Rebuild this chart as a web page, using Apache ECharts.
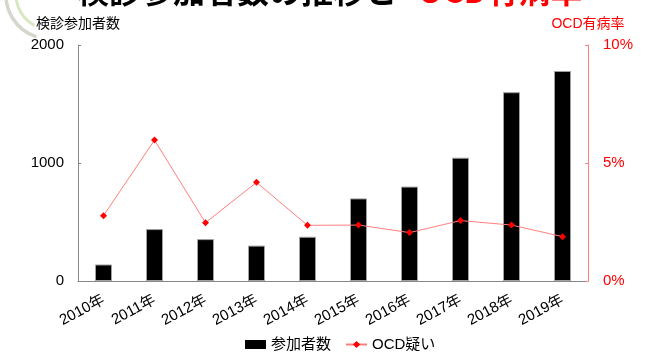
<!DOCTYPE html>
<html><head><meta charset="utf-8">
<script src="https://cdn.jsdelivr.net/npm/echarts@6/dist/echarts.min.js"></script>
<style>html,body{margin:0;padding:0;background:#fff}#c{width:651px;height:363px}</style>
</head><body><div id="c"></div>
<script>
const categories = ['2010年','2011年','2012年','2013年','2014年','2015年','2016年','2017年','2018年','2019年'];
const participants = [140, 440, 355, 300, 375, 700, 800, 1045, 1600, 1780];
const ocdRate = [2.77, 5.97, 2.47, 4.18, 2.36, 2.37, 2.05, 2.56, 2.37, 1.88];
const font = '"Liberation Sans", Arial, "Noto Sans CJK JP", sans-serif';

const chart = echarts.init(document.getElementById('c'));
chart.setOption({
  animation: false,
  backgroundColor: '#fff',
  textStyle: { fontFamily: font },
  graphic: [
    { type: 'arc', shape: { cx: 50, cy: -5, r: 44, startAngle: Math.PI * 0.6, endAngle: Math.PI * 1.05 }, style: { stroke: '#d3d7cc', lineWidth: 3.5, fill: null } },
    { type: 'arc', shape: { cx: 50, cy: -5, r: 34, startAngle: Math.PI * 0.65, endAngle: Math.PI * 1.0 }, style: { stroke: '#d9e6c2', lineWidth: 3, fill: null } },
    { type: 'text', x: 77, y: 7, style: { text: '検診参加者数の推移と', fill: '#000', font: 'bold 32px "Noto Sans CJK JP"', verticalAlign: 'bottom' } },
    { type: 'text', x: 418, y: 7, style: { text: 'OCD有病率', fill: '#ff0000', font: 'bold 32px "Noto Sans CJK JP"', verticalAlign: 'bottom' } }
  ],
  legend: {
    bottom: 6, left: 240, itemGap: 14,
    textStyle: { fontSize: 15, color: '#000', fontFamily: font },
    data: [
      { name: '参加者数', icon: 'rect', itemStyle: { color: '#000', borderWidth: 0 } },
      { name: 'OCD疑い' }
    ],
    itemWidth: 21, itemHeight: 9
  },
  grid: { left: 78, right: 63, top: 45, bottom: 82 },
  xAxis: {
    type: 'category', data: categories,
    axisLine: { lineStyle: { color: '#888', width: 1 } },
    axisTick: { show: false },
    axisLabel: { rotate: 28, color: '#000', fontSize: 15, margin: 18, fontFamily: font }
  },
  yAxis: [
    {
      type: 'value', min: 0, max: 2000, interval: 1000,
      name: '検診参加者数', nameLocation: 'end', nameGap: 14,
      nameTextStyle: { color: '#000', fontSize: 14, align: 'center' },
      axisLine: { show: true, lineStyle: { color: '#888' } },
      axisTick: { show: true, inside: true, length: 3, lineStyle: { color: '#888' } },
      axisLabel: { color: '#000', fontSize: 15, margin: 14, formatter: v => String(v) },
      splitLine: { show: false }
    },
    {
      type: 'value', min: 0, max: 10, interval: 5,
      name: 'OCD有病率', nameLocation: 'end', nameGap: 14,
      nameTextStyle: { color: '#ff0000', fontSize: 14, align: 'center' },
      axisLine: { show: true, lineStyle: { color: '#ff7f7f' } },
      axisTick: { show: true, inside: true, length: 3, lineStyle: { color: '#ff7f7f' } },
      axisLabel: { color: '#ff0000', fontSize: 15, margin: 15, formatter: '{value}%' },
      splitLine: { show: false }
    }
  ],
  series: [
    {
      name: '参加者数', type: 'bar', data: participants, barWidth: 17,
      itemStyle: { color: '#000', borderColor: '#a0a0a0', borderWidth: 1 }
    },
    {
      name: 'OCD疑い', type: 'line', yAxisIndex: 1, data: ocdRate,
      symbol: 'diamond', symbolSize: 7,
      lineStyle: { color: '#ff7f7f', width: 1 },
      itemStyle: { color: '#ff0000' }
    }
  ]
});
</script></body></html>
